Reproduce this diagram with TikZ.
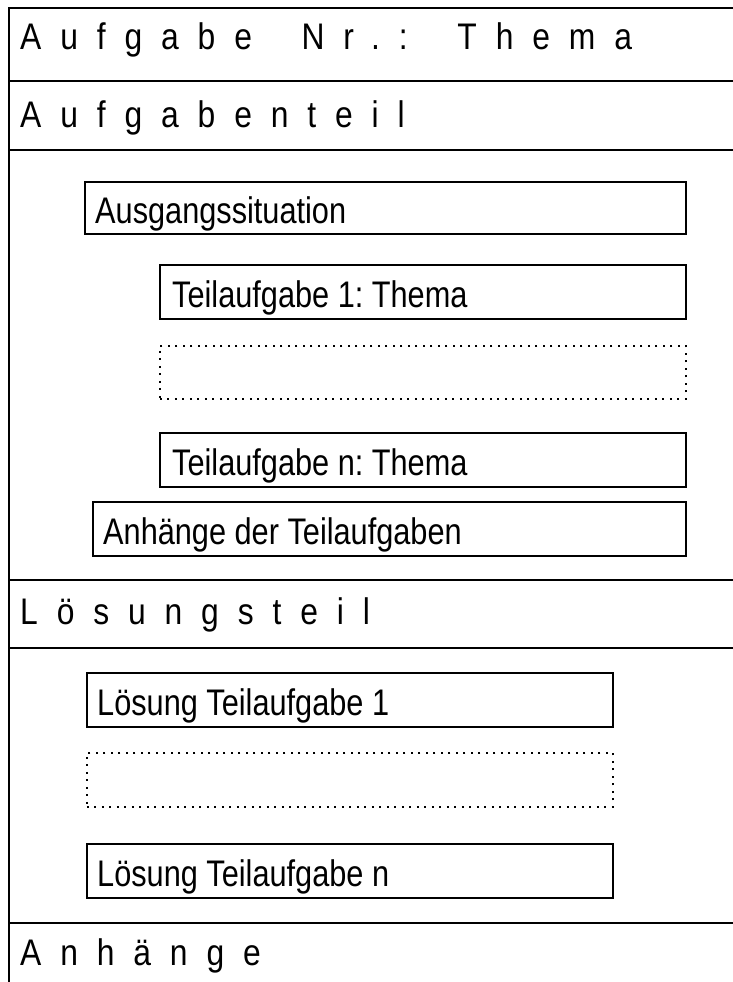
\documentclass[tikz,border=0pt]{standalone}
\usepackage{fontspec}
\newfontfamily\nfont[FakeStretch=0.83]{Liberation Sans}
\newfontfamily\hfont[FakeStretch=0.86,LetterSpace=51]{Liberation Sans}
\begin{document}
\frenchspacing
\begin{tikzpicture}[x=1pt,y=-1pt,
  frameline/.style={line width=1.6pt},
  box/.style={draw, line width=1.5pt, inner sep=0pt, anchor=north west},
  dotbox/.style={box, line width=1.8pt, dash pattern=on 2pt off 5.5pt},
  lbl/.style={anchor=base west, inner sep=0pt, font=\nfont\fontsize{37}{44}\selectfont},
  hlbl/.style={anchor=base west, inner sep=0pt, font=\hfont\fontsize{37}{44}\selectfont}]
\useasboundingbox (0,0) rectangle (733,982);
% frame
\coordinate (tl) at (9,8);
\coordinate (bl) at (9,982);
\coordinate (tr) at (733,8);
\draw[frameline] (bl) -- (tl) -- (tr);
\foreach \yy/\nm in {81/a,150/b,580/c,648/d,923/e}{
  \coordinate (\nm l) at (9,\yy);
  \coordinate (\nm r) at (733,\yy);
  \draw[frameline] (\nm l) -- (\nm r);
}
% headers
\node[hlbl] (h1) at (20,50) {Aufgabe\hspace{22pt} Nr.:\hspace{22pt} Thema};
\node[hlbl] (h2) at (20,127) {Aufgabenteil};
\node[hlbl] (h3) at (20,624) {Lösungsteil};
\node[hlbl] (h4) at (20,965) {Anhänge};
% Aufgabenteil boxes
\node[box, minimum width=601pt, minimum height=52pt] (aus) at (84,181) {};
\node[lbl] (ausT) at (95,223) {Ausgangssituation};
\node[box, minimum width=526pt, minimum height=54pt] (t1) at (159,264) {};
\node[lbl] (t1T) at (172,307) {Teilaufgabe 1: Thema};
\node[dotbox, minimum width=526pt, minimum height=53pt] (td) at (159,345) {};
\node[box, minimum width=526pt, minimum height=54pt] (tn) at (159,432) {};
\node[lbl] (tnT) at (172,475) {Teilaufgabe n: Thema};
\node[box, minimum width=593pt, minimum height=54pt] (anh) at (92,501) {};
\node[lbl] (anhT) at (103,544) {Anhänge der Teilaufgaben};
% Loesungsteil boxes
\node[box, minimum width=526pt, minimum height=54pt] (l1) at (86,672) {};
\node[lbl] (l1T) at (97,715) {Lösung Teilaufgabe 1};
\node[dotbox, minimum width=526pt, minimum height=54pt] (ld) at (86,752) {};
\node[box, minimum width=526pt, minimum height=54pt] (ln) at (86,843) {};
\node[lbl] (lnT) at (97,886) {Lösung Teilaufgabe n};
\end{tikzpicture}
\end{document}
